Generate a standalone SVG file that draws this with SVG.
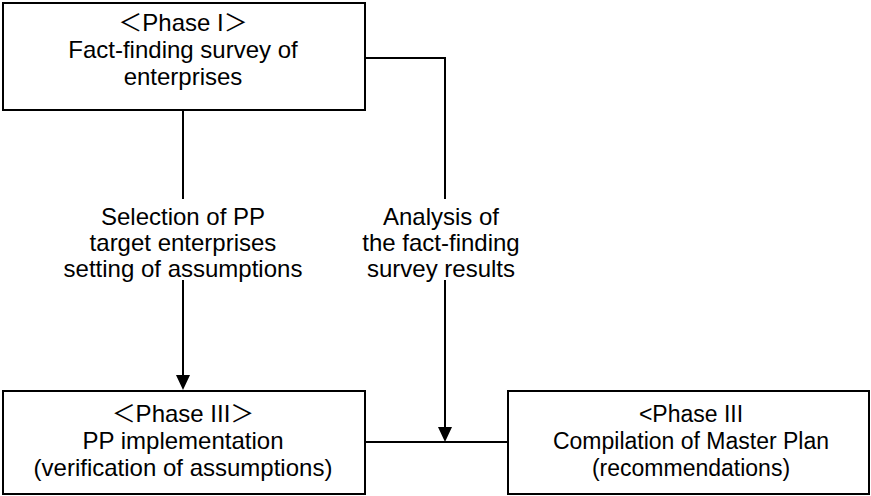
<svg xmlns="http://www.w3.org/2000/svg" width="871" height="496" viewBox="0 0 871 496">
<style>
.box{fill:#fff;stroke:#000;stroke-width:2}
.ln{fill:none;stroke:#000;stroke-width:2}
text{font-family:"Liberation Sans","Noto Sans CJK JP",Arial,sans-serif;font-size:24px;fill:#000;text-anchor:middle}
.sm{font-size:23px}
</style>
<rect width="871" height="496" fill="#fff"/>
<g id="connectors">
<path class="ln" d="M183 110 V199"/>
<path class="ln" d="M183 280 V376"/>
<polygon points="176,375 190,375 183,390"/>
<path class="ln" d="M365 58 H445 V199"/>
<path class="ln" d="M445 280 V428"/>
<polygon points="438,427 452,427 445,442"/>
<path class="ln" d="M365 442 H508"/>
<text x="183" y="225">Selection of PP</text>
<text x="183" y="251">target enterprises</text>
<text x="183" y="277">setting of assumptions</text>
<text x="441" y="225">Analysis of</text>
<text x="441" y="251">the fact-finding</text>
<text x="441" y="277">survey results</text>
</g>
<g id="phase1">
<rect class="box" x="3" y="3" width="362" height="107"/>
<text x="183" y="31">＜Phase I＞</text>
<text x="183" y="58">Fact-finding survey of</text>
<text x="183" y="85">enterprises</text>
</g>
<g id="phase3-pp">
<rect class="box" x="3" y="391" width="362" height="103"/>
<text x="183" y="422">＜Phase III＞</text>
<text x="183" y="449">PP implementation</text>
<text x="183" y="476">(verification of assumptions)</text>
</g>
<g id="phase3-mp">
<rect class="box" x="508" y="391" width="361" height="103"/>
<text class="sm" x="691" y="422">&lt;Phase III</text>
<text class="sm" x="691" y="449">Compilation of Master Plan</text>
<text class="sm" x="691" y="476">(recommendations)</text>
</g>
</svg>
